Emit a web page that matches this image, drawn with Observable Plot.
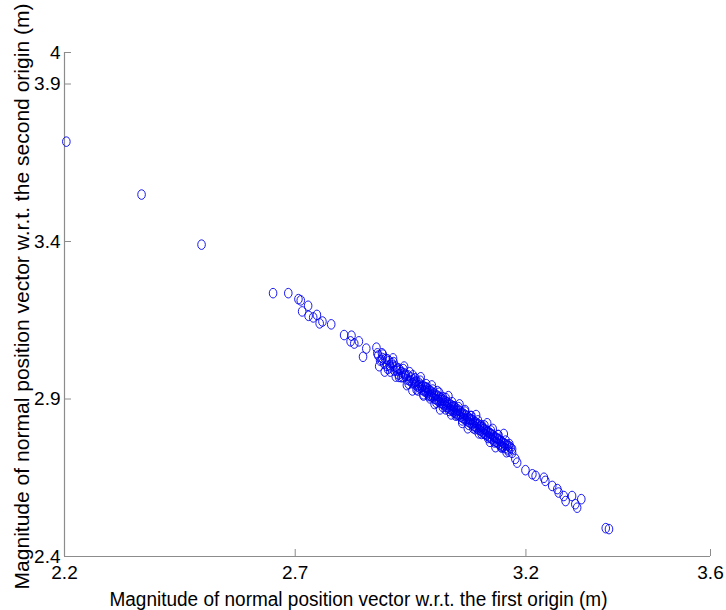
<!DOCTYPE html>
<html>
<head>
<meta charset="utf-8">
<script src="https://cdn.jsdelivr.net/npm/d3@7"></script>
<script src="https://cdn.jsdelivr.net/npm/@observablehq/plot@0.6"></script>
<style>
  html, body { margin: 0; padding: 0; background: #fff; }
  #chart svg { display: block; }
</style>
</head>
<body>
<div id="chart"></div>
<script>
const xTitle = "Magnitude of normal position vector w.r.t. the first origin (m)";
const yTitle = "Magnitude of normal position vector w.r.t. the second origin (m)";
const xTicks = [2.2, 2.7, 3.2, 3.6];
const yTicks = [2.4, 2.9, 3.4, 3.9, 4];

// sparse upper-left points
const xSparse = [2.204, 2.367, 2.497, 2.652, 2.685, 2.707, 2.712, 2.728, 2.715, 2.729, 2.739, 2.747, 2.753, 2.759, 2.778, 2.806, 2.822, 2.820, 2.828, 2.838, 2.854, 2.847, 2.878];
const ySparse = [3.717, 3.549, 3.390, 3.236, 3.236, 3.217, 3.213, 3.196, 3.178, 3.164, 3.159, 3.167, 3.140, 3.146, 3.137, 3.103, 3.101, 3.083, 3.076, 3.083, 3.060, 3.034, 3.045];

// dense band
const xBand = [2.880, 2.884, 2.889, 2.893, 2.896, 2.899, 2.903, 2.906, 2.909, 2.912, 2.915, 2.918, 2.921, 2.924, 2.927, 2.930, 2.933, 2.936, 2.939, 2.942, 2.945, 2.948, 2.951, 2.954, 2.957, 2.960, 2.962, 2.965, 2.968, 2.970, 2.972, 2.975, 2.977, 2.979, 2.981, 2.983, 2.985, 2.987, 2.989, 2.991, 2.993, 2.995, 2.997, 2.999, 3.001, 3.003, 3.005, 3.007, 3.009, 3.011, 3.013, 3.015, 3.017, 3.019, 3.021, 3.023, 3.025, 3.027, 3.029, 3.031, 3.033, 3.035, 3.037, 3.039, 3.041, 3.043, 3.045, 3.047, 3.049, 3.051, 3.053, 3.055, 3.057, 3.059, 3.061, 3.063, 3.065, 3.067, 3.069, 3.071, 3.073, 3.075, 3.077, 3.079, 3.081, 3.083, 3.085, 3.087, 3.089, 3.091, 3.093, 3.095, 3.097, 3.099, 3.101, 3.103, 3.105, 3.107, 3.109, 3.111, 3.113, 3.115, 3.117, 3.119, 3.121, 3.123, 3.125, 3.127, 3.129, 3.131, 3.133, 3.135, 3.137, 3.139, 3.141, 3.143, 3.145, 3.147, 3.149, 3.151, 3.153, 3.155, 3.158, 3.161, 3.164, 3.167];
const yBand = [3.038, 3.022, 3.030, 3.012, 3.027, 3.005, 3.020, 3.000, 3.014, 3.006, 2.990, 3.003, 2.996, 2.978, 2.992, 2.985, 2.970, 2.982, 2.978, 2.962, 2.975, 2.958, 2.968, 2.950, 2.962, 2.946, 2.956, 2.940, 2.952, 2.935, 2.945, 2.930, 2.942, 2.925, 2.938, 2.922, 2.934, 2.918, 2.930, 2.912, 2.926, 2.908, 2.921, 2.905, 2.918, 2.900, 2.914, 2.897, 2.910, 2.892, 2.906, 2.888, 2.902, 2.885, 2.897, 2.880, 2.894, 2.876, 2.890, 2.873, 2.886, 2.869, 2.882, 2.864, 2.878, 2.860, 2.874, 2.856, 2.870, 2.852, 2.866, 2.848, 2.862, 2.844, 2.857, 2.840, 2.853, 2.836, 2.849, 2.832, 2.845, 2.828, 2.840, 2.824, 2.836, 2.820, 2.832, 2.815, 2.828, 2.811, 2.824, 2.806, 2.820, 2.802, 2.815, 2.798, 2.811, 2.794, 2.806, 2.790, 2.802, 2.785, 2.798, 2.781, 2.793, 2.777, 2.789, 2.772, 2.785, 2.768, 2.780, 2.764, 2.776, 2.760, 2.772, 2.756, 2.768, 2.752, 2.763, 2.748, 2.759, 2.744, 2.755, 2.740, 2.750, 2.745];

// band edges (wider scatter)
const xEdge = [2.890, 2.901, 2.913, 2.925, 2.934, 2.946, 2.955, 2.963, 2.971, 2.978, 2.984, 2.992, 2.998, 3.006, 3.012, 3.020, 3.026, 3.034, 3.040, 3.048, 3.054, 3.062, 3.068, 3.076, 3.082, 3.090, 3.096, 3.104, 3.110, 3.118, 3.124, 3.132, 3.140, 3.148, 3.156, 3.163];
const yEdge = [3.041, 2.995, 3.017, 2.970, 2.995, 2.948, 2.975, 2.930, 2.958, 2.915, 2.947, 2.902, 2.930, 2.888, 2.920, 2.874, 2.903, 2.862, 2.890, 2.847, 2.874, 2.832, 2.860, 2.818, 2.846, 2.804, 2.832, 2.789, 2.816, 2.776, 2.800, 2.762, 2.785, 2.746, 2.768, 2.733];

// outer scatter of the band
const xOuter = [2.876, 2.882, 2.888, 2.894, 2.900, 2.906, 2.912, 2.918, 2.924, 2.930, 2.936, 2.942, 2.948, 2.954, 2.960, 2.966, 2.972, 2.978, 2.984, 2.990, 2.996, 3.002, 3.008, 3.014, 3.020, 3.026, 3.032, 3.038, 3.044, 3.050, 3.056, 3.062, 3.068, 3.074, 3.080, 3.086, 3.092, 3.098, 3.104, 3.110, 3.116, 3.122, 3.128, 3.134, 3.140, 3.146, 3.152, 3.158, 3.164, 3.170];
const yOuter = [3.063, 3.004, 3.045, 2.987, 3.026, 2.987, 3.029, 2.971, 2.997, 2.969, 3.003, 2.944, 2.985, 2.927, 2.966, 2.927, 2.969, 2.911, 2.937, 2.909, 2.943, 2.884, 2.925, 2.867, 2.906, 2.867, 2.909, 2.851, 2.877, 2.849, 2.883, 2.824, 2.865, 2.807, 2.846, 2.807, 2.849, 2.791, 2.817, 2.789, 2.823, 2.764, 2.805, 2.747, 2.786, 2.747, 2.789, 2.731, 2.757, 2.729];

// band centre
const xMid = [2.887, 2.905, 2.920, 2.938, 2.950, 2.959, 2.967, 2.974, 2.982, 2.988, 2.996, 3.002, 3.010, 3.016, 3.024, 3.030, 3.038, 3.044, 3.050, 3.058, 3.064, 3.072, 3.078, 3.086, 3.094, 3.100, 3.108, 3.116, 3.122, 3.130, 3.138, 3.146, 3.154, 3.160];
const yMid = [3.024, 3.007, 2.990, 2.974, 2.960, 2.953, 2.944, 2.938, 2.928, 2.924, 2.914, 2.910, 2.900, 2.896, 2.887, 2.882, 2.874, 2.866, 2.862, 2.852, 2.847, 2.838, 2.834, 2.824, 2.818, 2.810, 2.804, 2.795, 2.790, 2.780, 2.773, 2.766, 2.756, 2.752];

// lower-right tail
const xTail = [3.170, 3.177, 3.181, 3.199, 3.214, 3.221, 3.239, 3.242, 3.257, 3.268, 3.271, 3.282, 3.286, 3.300, 3.307, 3.311, 3.320, 3.373, 3.380];
const yTail = [2.741, 2.710, 2.698, 2.674, 2.661, 2.656, 2.650, 2.640, 2.624, 2.614, 2.603, 2.592, 2.576, 2.592, 2.566, 2.555, 2.582, 2.490, 2.487];

const toPts = (xs, ys) => xs.map((x, i) => ({x, y: ys[i]}));
const points = [
  ...toPts(xSparse, ySparse),
  ...toPts(xBand, yBand),
  ...toPts(xEdge, yEdge),
  ...toPts(xOuter, yOuter),
  ...toPts(xMid, yMid),
  ...toPts(xTail, yTail)
];

// open ellipse marker (slightly taller than wide)
const ellipse = {
  draw(ctx) {
    const rx = 3.8, ry = 4.8, k = 0.5523;
    ctx.moveTo(rx, 0);
    ctx.bezierCurveTo(rx, ry * k, rx * k, ry, 0, ry);
    ctx.bezierCurveTo(-rx * k, ry, -rx, ry * k, -rx, 0);
    ctx.bezierCurveTo(-rx, -ry * k, -rx * k, -ry, 0, -ry);
    ctx.bezierCurveTo(rx * k, -ry, rx, -ry * k, rx, 0);
    ctx.closePath();
  }
};

const axisGray = "#8c8c8c";
const chart = Plot.plot({
  width: 726,
  height: 610,
  marginLeft: 64,
  marginRight: 16,
  marginTop: 52,
  marginBottom: 54,
  style: {fontFamily: "'Liberation Sans', Arial, sans-serif", fontSize: "19px", background: "#fff", color: "#000"},
  x: {domain: [2.2, 3.6]},
  y: {domain: [2.4, 4]},
  marks: [
    Plot.ruleX([2.2], {stroke: axisGray, strokeWidth: 1.2}),
    Plot.ruleY([2.4], {stroke: axisGray, strokeWidth: 1.2}),
    Plot.axisX({ticks: xTicks, tickFormat: d => String(d), tickSize: -7, tickPadding: 16, stroke: axisGray, fill: "#000",
      label: xTitle, labelAnchor: "center", labelArrow: "none", labelOffset: 49}),
    Plot.axisY({ticks: yTicks, tickFormat: d => String(d), tickSize: -7, tickPadding: 11, stroke: axisGray, fill: "#000",
      label: yTitle, labelAnchor: "center", labelArrow: "none", labelOffset: 50}),
    Plot.dot(points, {x: "x", y: "y", symbol: ellipse, r: 4, stroke: "#0000f0", strokeWidth: 0.9, fill: "none"})
  ]
});
document.getElementById("chart").appendChild(chart);

// axis title styling
const xl = chart.querySelector('[aria-label="x-axis label"] text');
if (xl) {
  xl.setAttribute("font-size", "20");
  xl.setAttribute("textLength", "498");
  xl.setAttribute("lengthAdjust", "spacingAndGlyphs");
  xl.setAttribute("dx", "-29");
}
const yl = chart.querySelector('[aria-label="y-axis label"] text');
if (yl) {
  yl.setAttribute("font-size", "21");
  yl.setAttribute("textLength", "586");
  yl.setAttribute("lengthAdjust", "spacingAndGlyphs");
  yl.setAttribute("dx", "8");
}
</script>
</body>
</html>
